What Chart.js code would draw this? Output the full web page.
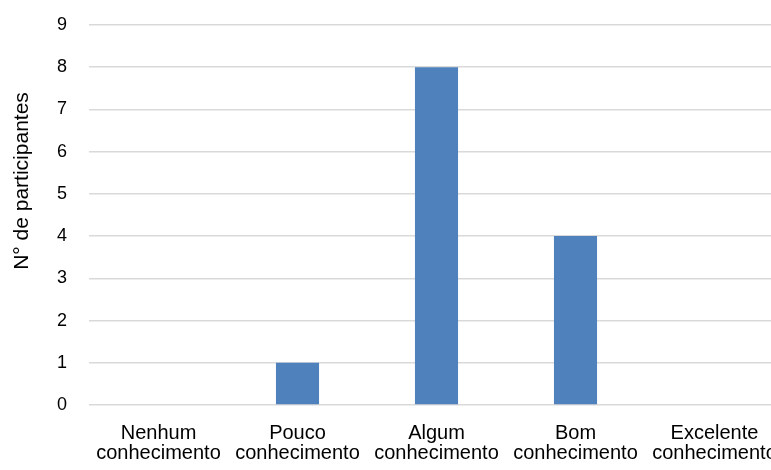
<!DOCTYPE html>
<html>
<head>
<meta charset="utf-8">
<script src="https://cdn.jsdelivr.net/npm/chart.js@4.4.1/dist/chart.umd.min.js"></script>
<style>
  html, body { margin: 0; padding: 0; background: #fff; overflow: hidden; }
  #wrap { position: relative; width: 784px; height: 470px; }
</style>
</head>
<body>
<div id="wrap"><canvas id="c"></canvas></div>
<script>
// Knowledge level categories (two-line labels)
const categories = [
  ['Nenhum', 'conhecimento'],
  ['Pouco', 'conhecimento'],
  ['Algum', 'conhecimento'],
  ['Bom', 'conhecimento'],
  ['Excelente', 'conhecimento']
];
// Number of participants per level
const participants = [0, 1, 8, 4, 0];
const yTitle = 'N° de participantes';
const yMin = 0, yMax = 9, yStep = 1;

const FONT = "'Liberation Sans', Arial, sans-serif";

// Rotated y-axis title drawn beside the tick labels
const yTitlePlugin = {
  id: 'yTitle',
  afterDraw(chart) {
    const ctx = chart.ctx;
    ctx.save();
    ctx.translate(22, 181);
    ctx.rotate(-Math.PI / 2);
    ctx.font = '21px ' + FONT;
    ctx.fillStyle = '#000';
    ctx.textAlign = 'center';
    ctx.textBaseline = 'middle';
    ctx.fillText(yTitle, 0, 0);
    ctx.restore();
  }
};

new Chart(document.getElementById('c'), {
  type: 'bar',
  data: {
    labels: categories,
    datasets: [{
      data: participants,
      backgroundColor: '#4f81bd',
      borderWidth: 0,
      barPercentage: 0.62,
      categoryPercentage: 0.5
    }]
  },
  options: {
    responsive: true,
    maintainAspectRatio: false,
    animation: false,
    layout: { padding: { top: 25, right: 0, left: 0, bottom: 0 } },
    plugins: { legend: { display: false }, tooltip: { enabled: false } },
    scales: {
      x: {
        grid: { display: false },
        border: { display: false },
        ticks: {
          color: '#000',
          font: { family: FONT, size: 20, lineHeight: 1.0 },
          padding: 10,
          maxRotation: 0,
          autoSkip: false
        },
        afterFit(scale) {
          scale.height = 65;
          scale.paddingLeft = 0;
          scale.paddingRight = 0;
        }
      },
      y: {
        min: yMin,
        max: yMax,
        grid: { color: '#d9d9d9', lineWidth: 1.5, drawTicks: false },
        border: { display: false },
        ticks: {
          stepSize: yStep,
          color: '#000',
          font: { family: FONT, size: 18 },
          padding: 22
        },
        afterFit(scale) {
          scale.width = 89;
          scale.paddingTop = 0;
          scale.paddingBottom = 0;
        }
      }
    }
  },
  plugins: [yTitlePlugin]
});
</script>
</body>
</html>
